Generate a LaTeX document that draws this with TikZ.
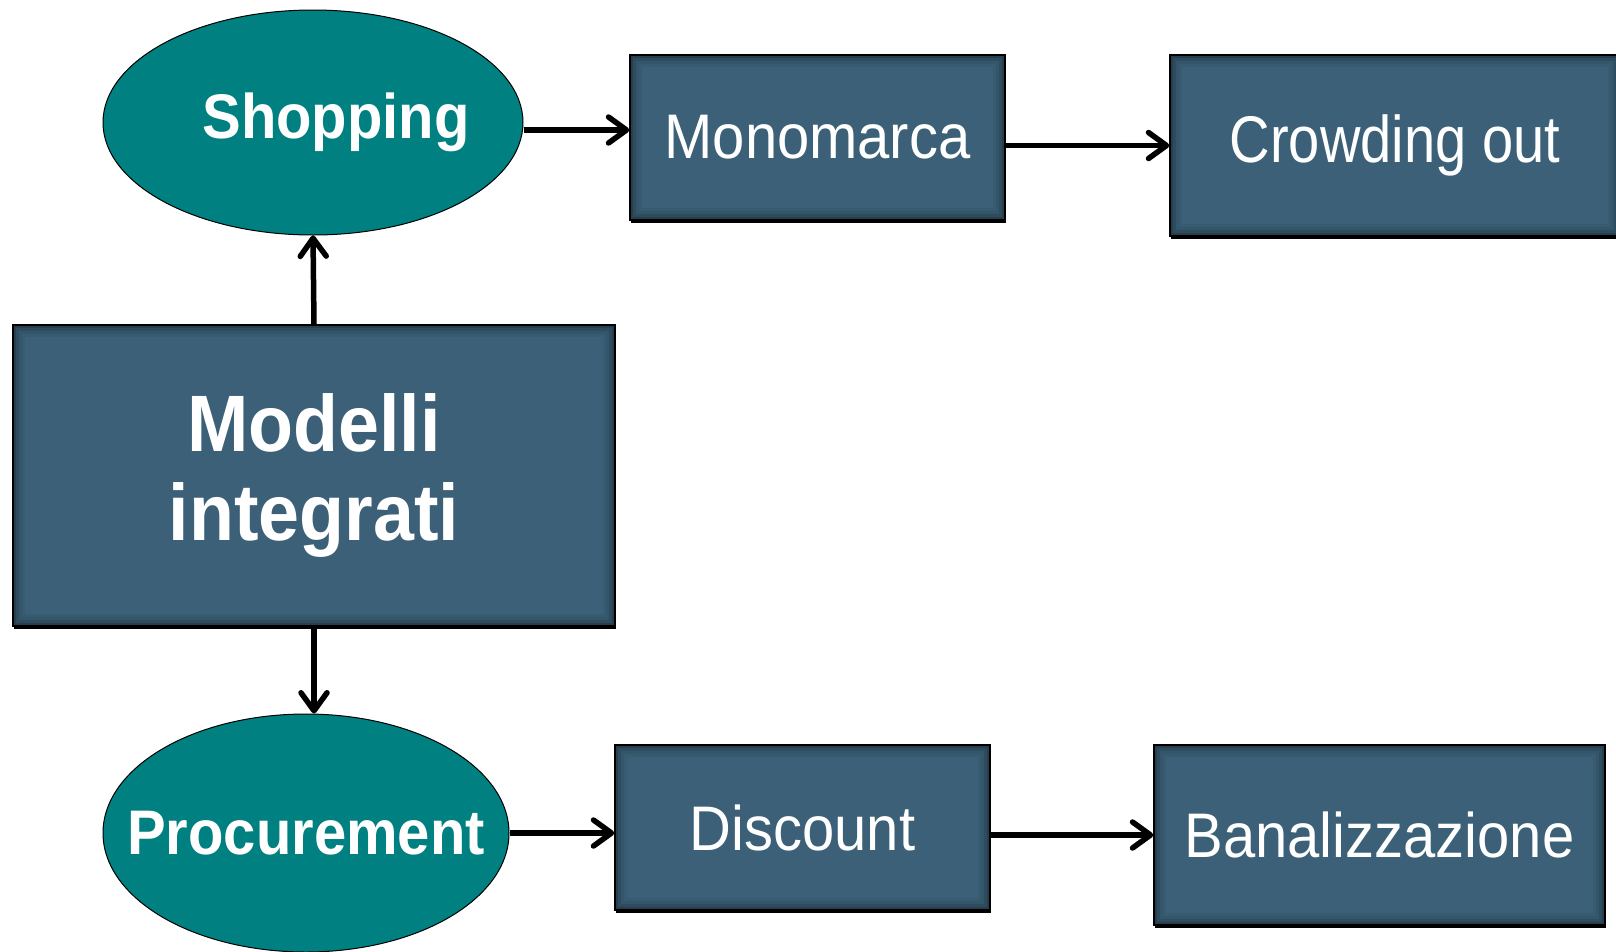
\documentclass[tikz,border=0pt]{standalone}
\usepackage{fontspec}
\setmainfont{Liberation Sans}
\newfontfamily\narrowfont[FakeStretch=0.92]{Liberation Sans}
\newfontfamily\condfont[FakeStretch=0.85]{Liberation Sans}
\usepackage{tikz}
\usetikzlibrary{shapes,arrows.meta,positioning,shadows}
\definecolor{boxblue}{RGB}{59,96,119}
\definecolor{ovalteal}{RGB}{0,128,128}

\begin{document}
\begin{tikzpicture}[x=1pt, y=-1pt,
    block/.style={rectangle, draw=black, line width=1.5pt, fill=boxblue, text=white, inner sep=0pt,
        font=\narrowfont\fontsize{63}{76}\selectfont,
        drop shadow={shadow xshift=1pt, shadow yshift=-3pt, fill=black, opacity=1},
        path picture={\foreach \d/\o in {1.5/0.35,4.5/0.2,7.5/0.1,10.5/0.05}
            \draw[black, opacity=\o, line width=3pt]
                ([xshift=\d pt, yshift=-\d pt]path picture bounding box.north west) rectangle
                ([xshift=-\d pt, yshift=\d pt]path picture bounding box.south east);}},
    oval/.style={ellipse, draw=black, line width=1pt, fill=ovalteal, text=white, inner sep=0pt,
        font=\narrowfont\fontsize{63}{76}\selectfont\bfseries},
    arrow/.style={-{Straight Barb[length=18pt,width=26pt,round]}, line width=5.5pt}]

    \useasboundingbox (0,0) rectangle (1616,951);

    \node[oval, minimum width=420pt, minimum height=225pt] (shopping) at (313,122.5) {\makebox[0pt]{\hspace*{46pt}Shopping}};
    \node[block, minimum width=375pt, minimum height=165pt] (monomarca) at (817.5,137.5) {Monomarca};
    \node[block, minimum width=450pt, minimum height=181pt, font=\condfont\fontsize{66}{80}\selectfont] (crowding) at (1395,145.5) {Crowding out};
    \node[block, minimum width=602pt, minimum height=301pt, align=center, font=\narrowfont\fontsize{80}{89}\selectfont\bfseries] (modelli) at (314,475.5) {Modelli\\integrati};
    \node[oval, minimum width=406pt, minimum height=238pt] (procurement) at (306,833) {\makebox[0pt]{Procurement}};
    \node[block, minimum width=375pt, minimum height=165pt] (discount) at (802.5,827.5) {Discount};
    \node[block, minimum width=451pt, minimum height=180pt] (banal) at (1379.5,835) {Banalizzazione};

    \draw[arrow] (modelli.north) -- (shopping.south);
    \draw[arrow] (modelli.south) -- (modelli.south |- procurement.north);
    \draw[arrow] ([yshift=-7.5pt]shopping.east) -- ([yshift=-7.5pt]shopping.east -| monomarca.west);
    \draw[arrow] (crowding.west -| monomarca.east) -- (crowding.west);
    \draw[arrow] (procurement.east) -- (procurement.east -| discount.west);
    \draw[arrow] (banal.west -| discount.east) -- (banal.west);

\end{tikzpicture}
\end{document}
